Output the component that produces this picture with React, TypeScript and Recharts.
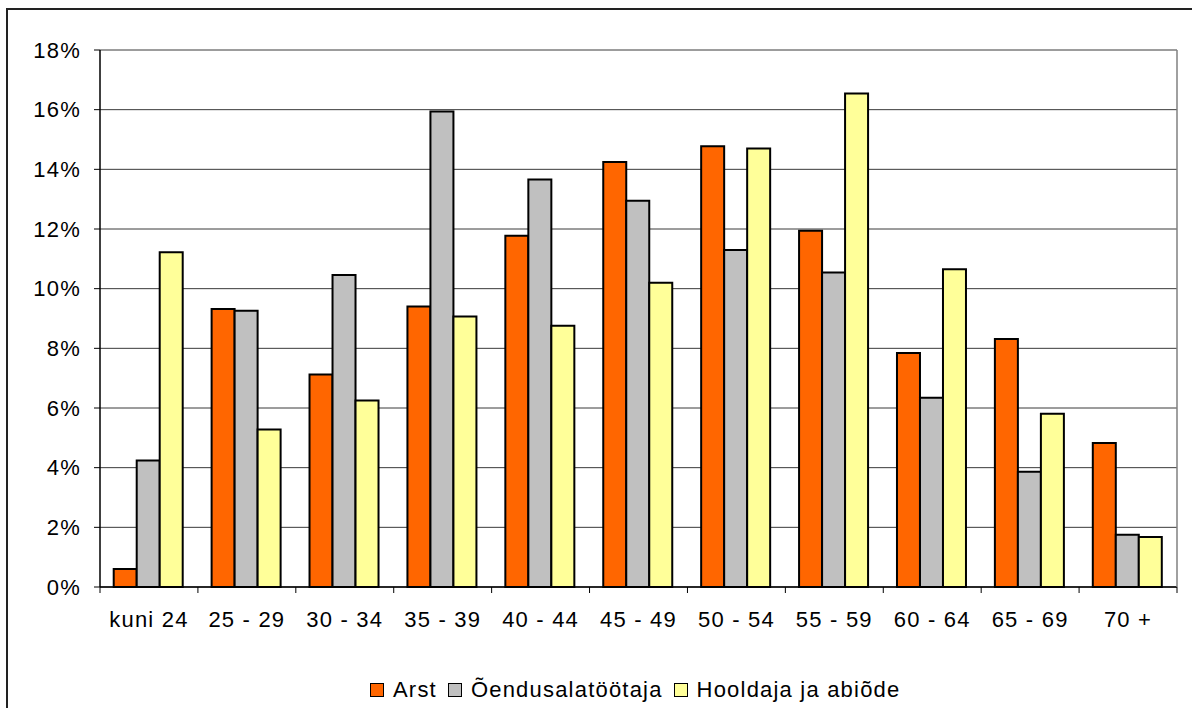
import React from 'react';
import { BarChart, Bar, XAxis, YAxis, CartesianGrid, Legend } from 'recharts';

const categories = ['kuni 24', '25 - 29', '30 - 34', '35 - 39', '40 - 44', '45 - 49', '50 - 54', '55 - 59', '60 - 64', '65 - 69', '70 +'];
const arst = [0.6, 9.32, 7.12, 9.4, 11.77, 14.25, 14.77, 11.94, 7.84, 8.31, 4.83];
const oendus = [4.24, 9.26, 10.46, 15.94, 13.66, 12.95, 11.3, 10.54, 6.34, 3.86, 1.75];
const hooldaja = [11.22, 5.28, 6.25, 9.07, 8.76, 10.2, 14.7, 16.54, 10.65, 5.81, 1.68];
const yTicks = [0, 2, 4, 6, 8, 10, 12, 14, 16, 18];

const seriesNames = ['Arst', 'Õendusalatöötaja', 'Hooldaja ja abiõde'];
const seriesColors = ['#FF6600', '#C0C0C0', '#FFFF99'];

const data = categories.map((c, i) => ({
  name: c,
  arst: arst[i],
  oendus: oendus[i],
  hooldaja: hooldaja[i],
}));

const FONT = '"Liberation Sans", Arial, sans-serif';
const LS = 1.2;

function XTick(props: any) {
  const { x, y, payload, index } = props;
  const half = payload && payload.offset ? payload.offset : 49;
  const axisY = y - 8;
  return (
    <g>
      <line x1={x - half} x2={x - half} y1={axisY} y2={axisY + 6} stroke="#000" strokeWidth={1} />
      {index === categories.length - 1 && (
        <line x1={x + half} x2={x + half} y1={axisY} y2={axisY + 6} stroke="#000" strokeWidth={1} />
      )}
      <text x={x} y={axisY + 40} textAnchor="middle" fill="#000" fontSize={22} fontFamily={FONT} letterSpacing={LS}>
        {payload.value}
      </text>
    </g>
  );
}

function LegendContent() {
  return (
    <div style={{ height: 30, display: 'flex', alignItems: 'center', paddingLeft: 370, fontFamily: FONT, fontSize: 22, letterSpacing: LS, color: '#000' }}>
      {seriesNames.map((n, i) => (
        <div key={n} style={{ display: 'flex', alignItems: 'center', marginRight: 11 }}>
          <span style={{ display: 'inline-block', boxSizing: 'border-box', width: 14, height: 14, background: seriesColors[i], border: '1.5px solid #000', marginRight: 9 }} />
          <span>{n}</span>
        </div>
      ))}
    </div>
  );
}

export default function App() {
  return (
    <div style={{ position: 'fixed', left: 0, top: 0, width: 1192, height: 708, overflow: 'hidden', background: '#fff' }}>
      <div style={{ position: 'absolute', left: 6, top: 8, width: 1250, height: 760, border: '2px solid #222' }} />
      <div style={{ position: 'absolute', left: 0, top: 0 }}>
        <BarChart
          width={1192}
          height={708}
          data={data}
          margin={{ top: 50, right: 0, left: 0, bottom: 3 }}
          barCategoryGap="14%"
          barGap={0}
          style={{ fontFamily: FONT }}
        >
          <CartesianGrid vertical={false} stroke="#3a3a3a" strokeWidth={1} />
          <XAxis
            dataKey="name"
            height={88}
            axisLine={{ stroke: '#000', strokeWidth: 1.5 }}
            tickLine={false}
            tick={<XTick />}
            interval={0}
          />
          <YAxis
            width={100}
            domain={[0, 18]}
            ticks={yTicks}
            tickFormatter={(v: number) => `${v}%`}
            axisLine={{ stroke: '#000', strokeWidth: 1.5 }}
            tickLine={{ stroke: '#000' }}
            tickSize={6}
            tickMargin={13}
            tick={{ fill: '#000', fontSize: 22, fontFamily: FONT, letterSpacing: LS }}
          />
          <YAxis
            yAxisId="r"
            orientation="right"
            width={15}
            tick={false}
            tickLine={false}
            axisLine={{ stroke: '#808080', strokeWidth: 1.5 }}
          />
          <Legend verticalAlign="bottom" content={<LegendContent />} />
          <Bar dataKey="arst" name={seriesNames[0]} fill={seriesColors[0]} stroke="#000" strokeWidth={2} isAnimationActive={false} />
          <Bar dataKey="oendus" name={seriesNames[1]} fill={seriesColors[1]} stroke="#000" strokeWidth={2} isAnimationActive={false} />
          <Bar dataKey="hooldaja" name={seriesNames[2]} fill={seriesColors[2]} stroke="#000" strokeWidth={2} isAnimationActive={false} />
        </BarChart>
      </div>
    </div>
  );
}
